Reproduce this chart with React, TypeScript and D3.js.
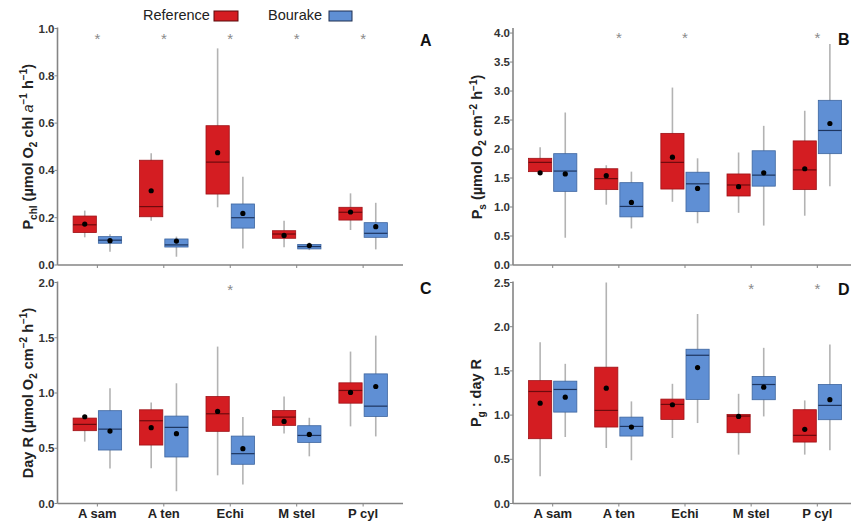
import React from "react";
import * as d3 from "d3";

// categories and groups
const categories = ["A sam", "A ten", "Echi", "M stel", "P cyl"];
const groups = ["Reference", "Bourake"];

// box stats per category: [whiskerLow, q1, median, q3, whiskerHigh, mean]
const pchlReference = [
  [0.117, 0.137, 0.17, 0.207, 0.23, 0.173],
  [0.187, 0.204, 0.247, 0.443, 0.472, 0.314],
  [0.244, 0.3, 0.435, 0.589, 0.916, 0.475],
  [0.075, 0.113, 0.131, 0.145, 0.187, 0.125],
  [0.148, 0.19, 0.223, 0.244, 0.303, 0.224],
];
const pchlBourake = [
  [0.056, 0.092, 0.105, 0.12, 0.13, 0.103],
  [0.035, 0.076, 0.085, 0.11, 0.12, 0.101],
  [0.07, 0.156, 0.2, 0.258, 0.373, 0.218],
  [0.063, 0.068, 0.078, 0.087, 0.095, 0.082],
  [0.066, 0.117, 0.134, 0.179, 0.263, 0.162],
];
const psReference = [
  [1.58, 1.61, 1.77, 1.84, 2.03, 1.59],
  [1.04, 1.3, 1.49, 1.66, 1.72, 1.54],
  [1.09, 1.31, 1.77, 2.27, 3.06, 1.86],
  [0.9, 1.19, 1.38, 1.57, 1.94, 1.35],
  [0.85, 1.3, 1.64, 2.14, 2.66, 1.66],
];
const psBourake = [
  [0.47, 1.27, 1.62, 1.92, 2.63, 1.57],
  [0.63, 0.83, 1.01, 1.42, 1.61, 1.08],
  [0.72, 0.92, 1.4, 1.6, 1.84, 1.32],
  [0.68, 1.36, 1.55, 1.97, 2.4, 1.59],
  [1.36, 1.92, 2.32, 2.84, 3.81, 2.44],
];
const dayRReference = [
  [0.56, 0.659, 0.716, 0.773, 0.78, 0.785],
  [0.319, 0.529, 0.749, 0.848, 0.914, 0.686],
  [0.255, 0.653, 0.812, 0.968, 1.42, 0.833],
  [0.634, 0.707, 0.782, 0.842, 0.968, 0.743],
  [0.698, 0.908, 1.023, 1.092, 1.375, 1.005],
];
const dayRBourake = [
  [0.316, 0.484, 0.673, 0.84, 1.043, 0.655],
  [0.111, 0.421, 0.689, 0.791, 1.088, 0.632],
  [0.171, 0.355, 0.451, 0.61, 0.782, 0.496],
  [0.427, 0.553, 0.616, 0.704, 0.776, 0.625],
  [0.607, 0.788, 0.881, 1.173, 1.519, 1.059],
];
const ratioReference = [
  [0.308, 0.733, 1.267, 1.39, 1.824, 1.135],
  [0.628, 0.865, 1.053, 1.542, 2.5, 1.305],
  [0.741, 0.951, 1.121, 1.181, 1.354, 1.117],
  [0.553, 0.801, 0.989, 1.008, 1.241, 0.985],
  [0.553, 0.695, 0.771, 1.061, 1.166, 0.839],
];
const ratioBourake = [
  [0.752, 1.034, 1.29, 1.384, 1.58, 1.203],
  [0.489, 0.763, 0.872, 0.977, 1.155, 0.865],
  [0.91, 1.177, 1.677, 1.745, 2.144, 1.538],
  [0.985, 1.174, 1.346, 1.437, 1.761, 1.316],
  [0.602, 0.948, 1.11, 1.346, 1.798, 1.174],
];

// significance flags per category
const sigA = [true, true, true, true, true];
const sigB = [false, true, true, false, true];
const sigC = [false, false, true, false, false];
const sigD = [false, false, false, true, true];

// y tick labels
const ticksA = [0, 0.2, 0.4, 0.6, 0.8, 1.0];
const ticksB = [0, 0.5, 1.0, 1.5, 2.0, 2.5, 3.0, 3.5, 4.0];
const ticksC = [0, 0.5, 1.0, 1.5, 2.0];
const ticksD = [0, 0.5, 1.0, 1.5, 2.0, 2.5];

// axis titles: [text, kind] kind: n normal, b sub, p super, i italic
const titleA: [string, string][] = [["P", "n"], ["chl", "b"], [" (µmol O", "n"], ["2", "b"], [" chl ", "n"], ["a", "i"], ["−1", "p"], [" h", "n"], ["−1", "p"], [")", "n"]];
const titleB: [string, string][] = [["P", "n"], ["s", "b"], [" (µmol O", "n"], ["2", "b"], [" cm", "n"], ["−2", "p"], [" h", "n"], ["−1", "p"], [")", "n"]];
const titleC: [string, string][] = [["Day R (µmol O", "n"], ["2", "b"], [" cm", "n"], ["−2", "p"], [" h", "n"], ["−1", "p"], [")", "n"]];
const titleD: [string, string][] = [["P", "n"], ["g", "b"], [" : day R", "n"]];

const FILL = ["#d41d22", "#5f8fd4"];
const STROKE = ["#9e1116", "#3d659f"];
const MEDIAN = ["#6e0a0d", "#1d3560"];
const FONT = "'Liberation Sans', Arial, sans-serif";
const AXIS = "#858585";

function Title({ segs }: { segs: [string, string][] }) {
  let cur = 0;
  return (
    <>
      {segs.map(([t, k], i) => {
        const target = k === "b" ? 4 : k === "p" ? -5.5 : 0;
        const dy = target - cur;
        cur = target;
        const small = k === "b" || k === "p";
        return (
          <tspan key={i} dy={dy} fontSize={small ? 10 : 14.5}
            fontStyle={k === "i" ? "italic" : "normal"} fontWeight={k === "i" ? "normal" : "bold"}>
            {t}
          </tspan>
        );
      })}
    </>
  );
}

type PanelProps = {
  x0: number; x1: number; yTop: number; yBottom: number; yMax: number;
  ticks: number[]; refData: number[][]; bouData: number[][]; sig: boolean[];
  letter: string; letterX: number; letterY: number; starY: number;
  title: [string, string][]; titleX: number; showX: boolean;
};

function Panel(p: PanelProps) {
  const x = d3.scaleLinear().domain([0.4, 5.6]).range([p.x0, p.x1]);
  const y = d3.scaleLinear().domain([0, p.yMax]).range([p.yBottom, p.yTop]);
  const unit = x(2) - x(1);
  const bw = 0.35 * unit;
  const offs = [-0.19, 0.19];
  const sets = [p.refData, p.bouData];
  return (
    <g>
      {categories.map((c, i) =>
        sets.map((set, g) => {
          const s = set[i];
          const cx = x(i + 1 + offs[g]);
          return (
            <g key={c + g}>
              <line x1={cx} x2={cx} y1={y(s[0])} y2={y(s[4])} stroke="#b3b3b3" strokeWidth={1.6} />
              <rect x={cx - bw / 2} y={y(s[3])} width={bw} height={y(s[1]) - y(s[3])}
                fill={FILL[g]} stroke={STROKE[g]} strokeWidth={0.8} />
              <line x1={cx - bw / 2} x2={cx + bw / 2} y1={y(s[2])} y2={y(s[2])} stroke={MEDIAN[g]} strokeWidth={1.2} />
              <circle cx={cx} cy={y(s[5])} r={2.6} fill="#000" />
            </g>
          );
        })
      )}
      <line x1={p.x0} x2={p.x0} y1={p.yTop - 1} y2={p.yBottom} stroke={AXIS} strokeWidth={1.6} />
      <line x1={p.x0} x2={p.x1} y1={p.yBottom} y2={p.yBottom} stroke={AXIS} strokeWidth={1.6} />
      {p.ticks.map((t) => (
        <g key={t}>
          <line x1={p.x0 - 3} x2={p.x0} y1={y(t)} y2={y(t)} stroke={AXIS} strokeWidth={1} />
          <text x={p.x0 - 3} y={y(t) + 4} textAnchor="end" fontSize={11.5} fontWeight="bold" fill="#333" fontFamily={FONT}>
            {d3.format(".1f")(t)}
          </text>
        </g>
      ))}
      {categories.map((c, i) => (
        <g key={c}>
          <line x1={x(i + 1)} x2={x(i + 1)} y1={p.yBottom} y2={p.yBottom + 3} stroke={AXIS} strokeWidth={1} />
          {p.showX && (
            <text x={x(i + 1)} y={p.yBottom + 14.5} textAnchor="middle" fontSize={13} fontWeight="bold" fill="#222" fontFamily={FONT}>
              {c}
            </text>
          )}
          {p.sig[i] && (
            <text x={x(i + 1)} y={p.starY} textAnchor="middle" fontSize={15} fill="#8a8a8a" fontFamily={FONT}>*</text>
          )}
        </g>
      ))}
      <text x={p.letterX} y={p.letterY} fontSize={16} fontWeight="bold" fill="#111" fontFamily={FONT}>{p.letter}</text>
      <text transform={`translate(${p.titleX},${(p.yTop + p.yBottom) / 2}) rotate(-90)`} textAnchor="middle"
        fontSize={14.5} fontWeight="bold" fill="#222" fontFamily={FONT}>
        <Title segs={p.title} />
      </text>
    </g>
  );
}

export default function App() {
  return (
    <svg width={851} height={522} style={{ position: "absolute", left: 0, top: 0, background: "#fff" }}>
      <rect width={851} height={522} fill="#fff" />
      <text x={143} y={20} fontSize={14.5} fill="#222" fontFamily={FONT}>{groups[0]}</text>
      <rect x={214} y={11} width={24} height={10} fill={FILL[0]} stroke="#5a0a0a" strokeWidth={1} />
      <text x={268} y={20} fontSize={14.5} fill="#222" fontFamily={FONT}>{groups[1]}</text>
      <rect x={329} y={11} width={23} height={10} fill={FILL[1]} stroke="#1f2f50" strokeWidth={1} />

      <Panel x0={57.5} x1={403} yTop={28.5} yBottom={265} yMax={1.0} ticks={ticksA}
        refData={pchlReference} bouData={pchlBourake} sig={sigA}
        letter="A" letterX={420} letterY={46} starY={44} titleX={32.5} showX={false} title={titleA} />
      <Panel x0={513} x1={857} yTop={29} yBottom={265} yMax={4.07} ticks={ticksB}
        refData={psReference} bouData={psBourake} sig={sigB}
        letter="B" letterX={838} letterY={45} starY={43} titleX={482} showX={false} title={titleB} />
      <Panel x0={57.5} x1={403} yTop={282.5} yBottom={503.5} yMax={2.0} ticks={ticksC}
        refData={dayRReference} bouData={dayRBourake} sig={sigC}
        letter="C" letterX={420} letterY={294} starY={295} titleX={32.5} showX={true} title={titleC} />
      <Panel x0={513} x1={857} yTop={282.5} yBottom={503.5} yMax={2.5} ticks={ticksD}
        refData={ratioReference} bouData={ratioBourake} sig={sigD}
        letter="D" letterX={838} letterY={295} starY={294} titleX={481} showX={true} title={titleD} />
    </svg>
  );
}
